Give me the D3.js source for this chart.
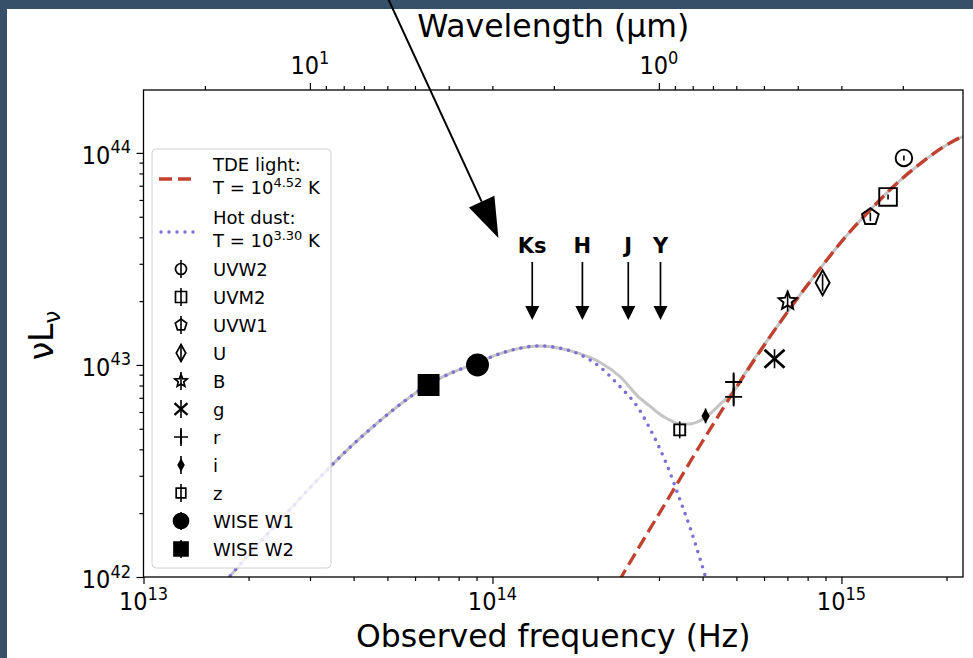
<!DOCTYPE html>
<html>
<head>
<meta charset="utf-8">
<title>SED</title>
<script src="https://cdn.jsdelivr.net/npm/d3@7/dist/d3.min.js"></script>
<style>
    body { margin: 0; background: #36506a; overflow: hidden; }
    svg { display: block; }
    text { font-family: "DejaVu Sans", sans-serif; fill: #000; }
</style>
</head>
<body>
<div id="sed-chart"></div>
<script>

var LIGHT_SPEED = 2.998e14; // micron per second

// photometric bands, in legend order
var bandNames = ["UVW2", "UVM2", "UVW1", "U", "B", "g", "r", "i", "z", "WISE W1", "WISE W2"];

// measured points: observed frequency (Hz), nu L_nu (erg/s), error (dex)
var pointBand = ["UVW2", "UVM2", "UVW1", "U", "B", "g", "r", "r", "i", "z", "WISE W1", "WISE W2"];
var pointFreq = [1.51e15, 1.36e15, 1.21e15, 8.83e14, 7.01e14, 6.43e14, 4.91e14, 4.91e14, 4.08e14, 3.44e14, 9.06e13, 6.56e13];
var pointLum = [9.47e43, 6.20e43, 4.99e43, 2.44e43, 2.00e43, 1.07e43, 8.31e42, 7.07e42, 5.75e42, 4.94e42, 1.00e43, 8.05e42];
var pointErrDex = [0.012, 0.012, 0.02, 0.04, 0.05, 0.045, 0.045, 0.045, 0.035, 0.04, 0.02, 0.02];

// blackbody fits
var tdeLogT = "4.52";
var dustLogT = "3.30";

var tdeFreq = [2.03e14, 2.34e14, 2.76e14, 3.26e14, 3.84e14, 4.53e14, 5.34e14, 6.30e14, 7.43e14, 8.76e14,
    1.03e15, 1.22e15, 1.44e15, 1.70e15, 2.00e15, 2.22e15, 2.30e15];
var tdeLum = [6.69e41, 1.00e42, 1.58e42, 2.49e42, 3.91e42, 6.07e42, 9.27e42, 1.39e43, 2.03e43, 2.90e43,
    4.04e43, 5.47e43, 7.18e43, 9.02e43, 1.09e44, 1.19e44, 1.21e44];

var dustFreq = [1.60e13, 1.76e13, 2.15e13, 2.62e13, 3.19e13, 3.89e13, 4.75e13, 5.60e13, 6.51e13, 7.63e13,
    9.00e13, 1.05e14, 1.20e14, 1.36e14, 1.56e14, 1.78e14, 2.03e14, 2.31e14, 2.64e14, 2.82e14,
    3.01e14, 3.22e14, 3.44e14, 3.67e14, 3.92e14, 4.08e14, 4.24e14];
var dustLum = [8.31e41, 1.00e42, 1.45e42, 2.07e42, 2.93e42, 4.06e42, 5.44e42, 6.76e42, 8.05e42, 9.17e42,
    1.02e43, 1.13e43, 1.20e43, 1.23e43, 1.20e43, 1.12e43, 9.79e42, 7.96e42, 6.13e42, 5.04e42,
    4.06e42, 3.13e42, 2.33e42, 1.74e42, 1.24e42, 1.00e42, 7.96e41];

// sum of both components
var totalFreq = [1.60e13, 1.76e13, 2.15e13, 2.62e13, 3.19e13, 3.89e13, 4.75e13, 5.60e13, 6.51e13, 7.63e13,
    9.00e13, 1.05e14, 1.20e14, 1.36e14, 1.56e14, 1.78e14, 2.03e14, 2.31e14, 2.64e14, 2.82e14,
    3.01e14, 3.22e14, 3.44e14, 3.67e14, 3.92e14, 4.19e14, 4.47e14, 4.94e14, 5.45e14, 6.30e14,
    7.43e14, 8.76e14, 1.03e15, 1.22e15, 1.44e15, 1.70e15, 2.00e15, 2.22e15, 2.30e15];
var totalLum = [8.31e41, 1.00e42, 1.45e42, 2.07e42, 2.93e42, 4.06e42, 5.44e42, 6.76e42, 8.05e42, 9.17e42,
    1.02e43, 1.13e43, 1.20e43, 1.23e43, 1.20e43, 1.13e43, 1.03e43, 8.87e42, 6.99e42, 6.41e42,
    5.87e42, 5.50e42, 5.27e42, 5.27e42, 5.44e42, 5.87e42, 6.48e42, 7.62e42, 9.89e42, 1.39e43,
    2.03e43, 2.90e43, 4.04e43, 5.47e43, 7.18e43, 9.02e43, 1.09e44, 1.19e44, 1.21e44];

// near-IR filters marked with arrows
var filterNames = ["Ks", "H", "J", "Y"];
var filterFreq = [1.30e14, 1.81e14, 2.45e14, 3.03e14];
var filterArrowLum = 1.63e43;

// pointer into the plot, from the top edge of the page
var pointerFrom = [5.04e13, 5.27e44];
var pointerTo = [1.04e14, 3.97e43];

// tick decades
var freqTickExp = [13, 14, 15];
var lumTickExp = [42, 43, 44];
var wlTickExp = [1, 0];


var markerStyle = {
    "UVW2":    { shape: "circle",   size: 8.3,  legendSize: 5.5, fill: false },
    "UVM2":    { shape: "square",   size: 8.8,  legendSize: 5.5, fill: false },
    "UVW1":    { shape: "pentagon", size: 8.8,  legendSize: 6,   fill: false },
    "U":       { shape: "diamond",  size: 12.5, legendSize: 8.5, fill: false },
    "B":       { shape: "star",     size: 9.5,  legendSize: 6.5, fill: false },
    "g":       { shape: "x",        size: 10,   legendSize: 6.5, fill: false },
    "r":       { shape: "plus",     size: 8.5,  legendSize: 7,   fill: false },
    "i":       { shape: "diamond",  size: 5.5,  legendSize: 5,   fill: true },
    "z":       { shape: "square",   size: 5.5,  legendSize: 4.8, fill: false },
    "WISE W1": { shape: "circle",   size: 10.5, legendSize: 7.5, fill: true },
    "WISE W2": { shape: "square",   size: 10,   legendSize: 7,   fill: true }
};

function markerPath(shape, s) {
    var p = d3.path(), k, a, r;
    if (shape === "circle") {
        p.moveTo(s, 0);
        p.arc(0, 0, s, 0, 2 * Math.PI);
    } else if (shape === "square") {
        p.rect(-s, -s, 2 * s, 2 * s);
    } else if (shape === "pentagon" || shape === "star") {
        var n = shape === "star" ? 10 : 5;
        for (k = 0; k < n; k++) {
            r = (shape === "star" && k % 2) ? s * 0.45 : s;
            a = -Math.PI / 2 + k * 2 * Math.PI / n;
            if (k === 0) p.moveTo(r * Math.cos(a), r * Math.sin(a));
            else p.lineTo(r * Math.cos(a), r * Math.sin(a));
        }
        p.closePath();
    } else if (shape === "diamond") {
        p.moveTo(0, -s);
        p.lineTo(0.56 * s, 0);
        p.lineTo(0, s);
        p.lineTo(-0.56 * s, 0);
        p.closePath();
    } else if (shape === "x") {
        p.moveTo(-s, -0.9 * s); p.lineTo(s, 0.9 * s);
        p.moveTo(-s, 0.9 * s); p.lineTo(s, -0.9 * s);
    } else if (shape === "plus") {
        p.moveTo(-s, 0); p.lineTo(s, 0);
        p.moveTo(0, -s); p.lineTo(0, s);
    }
    return p.toString();
}

// "10" with a raised exponent
function powerLabel(sel, exp, size) {
    sel.append("tspan").text("10");
    sel.append("tspan")
        .attr("dy", -0.42 * size)
        .attr("font-size", 0.72 * size)
        .text(exp);
}


sedChart = function(_parentElement) {
    this.parentElement = _parentElement;
    this.initVis();
};

sedChart.prototype.initVis = function() {
    var vis = this;

    vis.width = 973;
    vis.height = 658;
    vis.plot = { left: 143.5, right: 963, top: 90, bottom: 577 };

    vis.svg = d3.select("#" + vis.parentElement).append("svg")
        .attr("width", vis.width)
        .attr("height", vis.height);

    // page on the dark backdrop
    vis.svg.append("rect")
        .attr("width", vis.width)
        .attr("height", vis.height)
        .attr("fill", "#36506a");
    vis.svg.append("rect")
        .attr("x", 7)
        .attr("y", 9)
        .attr("width", vis.width - 7)
        .attr("height", vis.height - 9)
        .attr("fill", "#ffffff");

    vis.x = d3.scaleLog()
        .domain([1e13, 2.23e15])
        .range([vis.plot.left, vis.plot.right]);
    vis.y = d3.scaleLog()
        .domain([1e42, 1.98e44])
        .range([vis.plot.bottom, vis.plot.top]);
    // wavelength in micron for the top axis
    vis.wl = d3.scaleLog()
        .domain([LIGHT_SPEED / vis.x.domain()[0], LIGHT_SPEED / vis.x.domain()[1]])
        .range([vis.plot.left, vis.plot.right]);

    vis.svg.append("clipPath")
        .attr("id", "plot-clip")
        .append("rect")
        .attr("x", vis.plot.left)
        .attr("y", vis.plot.top)
        .attr("width", vis.plot.right - vis.plot.left)
        .attr("height", vis.plot.bottom - vis.plot.top);

    vis.drawCurves();
    vis.drawLegend();
    vis.drawPoints();
    vis.drawFilters();
    vis.drawAxes();
    vis.drawPointer();
};

sedChart.prototype.drawCurves = function() {
    var vis = this;

    var line = d3.line()
        .x(function(d) { return vis.x(d[0]); })
        .y(function(d) { return vis.y(d[1]); })
        .curve(d3.curveMonotoneX);

    var curves = vis.svg.append("g")
        .attr("clip-path", "url(#plot-clip)")
        .attr("fill", "none");

    curves.append("path")
        .attr("d", line(d3.zip(totalFreq, totalLum)))
        .attr("stroke", "#c4c4c4")
        .attr("stroke-width", 3);

    curves.append("path")
        .attr("d", line(d3.zip(dustFreq, dustLum)))
        .attr("stroke", "#7a6fd4")
        .attr("stroke-width", 3.6)
        .attr("stroke-linecap", "round")
        .attr("stroke-dasharray", "0,8");

    curves.append("path")
        .attr("d", line(d3.zip(tdeFreq, tdeLum)))
        .attr("stroke", "#c2402e")
        .attr("stroke-width", 3.3)
        .attr("stroke-dasharray", "13,6");
};

sedChart.prototype.drawLegend = function() {
    var vis = this;

    var lg = vis.svg.append("g").attr("class", "legend");
    lg.append("rect")
        .attr("x", 152)
        .attr("y", 149)
        .attr("width", 179)
        .attr("height", 419)
        .attr("rx", 4)
        .attr("fill", "#ffffff")
        .attr("fill-opacity", 0.8)
        .attr("stroke", "#d0d0d0");

    var fs = 18;
    var textX = 213;
    var markX = 181;

    // model lines
    var models = [
        { name: "TDE light:", logT: tdeLogT, y: 179, color: "#c2402e", dash: "13,6", cap: "butt" },
        { name: "Hot dust:", logT: dustLogT, y: 232, color: "#7a6fd4", dash: "0,8", cap: "round" }
    ];
    models.forEach(function(m) {
        lg.append("line")
            .attr("x1", m.cap === "round" ? 161 : 159)
            .attr("x2", 194)
            .attr("y1", m.y)
            .attr("y2", m.y)
            .attr("stroke", m.color)
            .attr("stroke-width", 3.4)
            .attr("stroke-linecap", m.cap)
            .attr("stroke-dasharray", m.dash);
        lg.append("text")
            .attr("x", textX)
            .attr("y", m.y - 8)
            .attr("font-size", fs)
            .text(m.name);
        var t = lg.append("text")
            .attr("x", textX)
            .attr("y", m.y + 15)
            .attr("font-size", fs);
        t.append("tspan").text("T = 10");
        t.append("tspan").attr("dy", -7).attr("font-size", 13).text(m.logT);
        t.append("tspan").attr("dy", 7).text(" K");
    });

    bandNames.forEach(function(b, i) {
        var yy = 269 + 28 * i;
        var st = markerStyle[b];
        lg.append("line")
            .attr("x1", markX).attr("x2", markX)
            .attr("y1", yy - 9).attr("y2", yy + 9)
            .attr("stroke", "#000")
            .attr("stroke-width", 1.6);
        lg.append("path")
            .attr("transform", "translate(" + markX + "," + yy + ")")
            .attr("d", markerPath(st.shape, st.legendSize))
            .attr("fill", st.fill ? "#000" : "none")
            .attr("stroke", "#000")
            .attr("stroke-width", st.shape === "x" ? 2.3 : 1.7);
        lg.append("text")
            .attr("x", textX)
            .attr("y", yy + 6.5)
            .attr("font-size", fs)
            .text(b);
    });
};

sedChart.prototype.drawPoints = function() {
    var vis = this;

    var pts = pointBand.map(function(b, i) {
        return { band: b, freq: pointFreq[i], lum: pointLum[i], err: pointErrDex[i] };
    });

    var g = vis.svg.append("g").attr("class", "points");

    g.selectAll("line.err")
        .data(pts)
        .enter()
        .append("line")
        .attr("class", "err")
        .attr("x1", function(d) { return vis.x(d.freq); })
        .attr("x2", function(d) { return vis.x(d.freq); })
        .attr("y1", function(d) { return vis.y(d.lum * Math.pow(10, d.err)); })
        .attr("y2", function(d) { return vis.y(d.lum / Math.pow(10, d.err)); })
        .attr("stroke", "#000")
        .attr("stroke-width", 1.6);

    g.selectAll("path.marker")
        .data(pts)
        .enter()
        .append("path")
        .attr("class", "marker")
        .attr("transform", function(d) {
            return "translate(" + vis.x(d.freq) + "," + vis.y(d.lum) + ")";
        })
        .attr("d", function(d) {
            var st = markerStyle[d.band];
            return markerPath(st.shape, st.size);
        })
        .attr("fill", function(d) { return markerStyle[d.band].fill ? "#000" : "none"; })
        .attr("stroke", "#000")
        .attr("stroke-width", function(d) { return markerStyle[d.band].shape === "x" ? 2.8 : 1.9; });
};

sedChart.prototype.drawFilters = function() {
    var vis = this;

    var g = vis.svg.append("g").attr("class", "filters");
    var tipY = vis.y(filterArrowLum);

    filterNames.forEach(function(f, i) {
        var fx = vis.x(filterFreq[i]);
        g.append("text")
            .attr("x", fx)
            .attr("y", tipY - 67)
            .attr("text-anchor", "middle")
            .attr("font-size", 21)
            .attr("font-weight", "bold")
            .text(f);
        g.append("line")
            .attr("x1", fx).attr("x2", fx)
            .attr("y1", tipY - 58).attr("y2", tipY - 12)
            .attr("stroke", "#000")
            .attr("stroke-width", 1.7);
        g.append("path")
            .attr("d", "M" + (fx - 7) + "," + (tipY - 14) + "L" + (fx + 7) + "," + (tipY - 14) +
                "L" + fx + "," + tipY + "Z")
            .attr("fill", "#000");
    });
};

sedChart.prototype.drawAxes = function() {
    var vis = this;
    var p = vis.plot;

    var minors = function(exps, scale) {
        var lo = Math.min.apply(null, scale.domain()), hi = Math.max.apply(null, scale.domain());
        var out = [];
        d3.range(d3.min(exps) - 1, d3.max(exps) + 1).forEach(function(e) {
            for (var k = 2; k <= 9; k++) {
                var v = k * Math.pow(10, e);
                if (v > lo && v < hi) out.push(v);
            }
        });
        return out;
    };
    var majors = function(exps) {
        return exps.map(function(e) { return Math.pow(10, e); });
    };

    var axes = [
        { g: "x-axis", axis: d3.axisBottom(vis.x), scale: vis.x, exps: freqTickExp, at: "translate(0," + p.bottom + ")" },
        { g: "y-axis", axis: d3.axisLeft(vis.y), scale: vis.y, exps: lumTickExp, at: "translate(" + p.left + ",0)" },
        { g: "wl-axis", axis: d3.axisTop(vis.wl), scale: vis.wl, exps: wlTickExp, at: "translate(0," + p.top + ")" }
    ];

    axes.forEach(function(a) {
        var ag = vis.svg.append("g")
            .attr("class", a.g + " axis")
            .attr("transform", a.at);
        ag.append("g").call(a.axis.tickValues(minors(a.exps, a.scale)).tickSize(4).tickSizeOuter(0).tickFormat(""));
        ag.append("g").call(a.axis.tickValues(majors(a.exps)).tickSize(7).tickSizeOuter(0).tickFormat(""));
        ag.selectAll(".domain").remove();
        ag.selectAll(".tick line").attr("stroke", "#000").attr("stroke-width", 1.2);
    });

    // frame
    vis.svg.append("rect")
        .attr("x", p.left)
        .attr("y", p.top)
        .attr("width", p.right - p.left)
        .attr("height", p.bottom - p.top)
        .attr("fill", "none")
        .attr("stroke", "#000")
        .attr("stroke-width", 1.3);

    // tick labels, slightly condensed
    var tfs = 25;
    var tickLabel = function(tx, ty, anchor, e) {
        var t = vis.svg.append("g")
            .attr("transform", "translate(" + tx + "," + ty + ") scale(0.9,1)")
            .append("text")
            .attr("text-anchor", anchor)
            .attr("font-size", tfs);
        powerLabel(t, e, tfs);
    };
    freqTickExp.forEach(function(e) {
        tickLabel(vis.x(Math.pow(10, e)), 610, "middle", e);
    });
    lumTickExp.forEach(function(e) {
        tickLabel(131, vis.y(Math.pow(10, e)) + 11, "end", e);
    });
    wlTickExp.forEach(function(e) {
        tickLabel(vis.wl(Math.pow(10, e)), 74, "middle", e);
    });

    // axis titles
    var cx = (p.left + p.right) / 2;
    vis.svg.append("text")
        .attr("x", cx)
        .attr("y", 647)
        .attr("text-anchor", "middle")
        .attr("font-size", 31.5)
        .text("Observed frequency (Hz)");
    vis.svg.append("text")
        .attr("x", cx)
        .attr("y", 37)
        .attr("text-anchor", "middle")
        .attr("font-size", 31.5)
        .text("Wavelength (\u00b5m)");

    var yl = vis.svg.append("text")
        .attr("transform", "translate(53," + ((p.top + p.bottom) / 2 + 2) + ") rotate(-90)")
        .attr("text-anchor", "middle")
        .attr("font-size", 33);
    yl.append("tspan").text("\u03bdL");
    yl.append("tspan").attr("dy", 7).attr("font-size", 23).text("\u03bd");
};

sedChart.prototype.drawPointer = function() {
    var vis = this;

    var x0 = vis.x(pointerFrom[0]), y0 = vis.y(pointerFrom[1]);
    var x1 = vis.x(pointerTo[0]), y1 = vis.y(pointerTo[1]);
    var len = Math.sqrt((x1 - x0) * (x1 - x0) + (y1 - y0) * (y1 - y0));
    var ux = (x1 - x0) / len, uy = (y1 - y0) / len;
    var headLen = 40, headHalf = 14;
    var bx = x1 - headLen * ux, by = y1 - headLen * uy;

    vis.svg.append("line")
        .attr("x1", x0).attr("y1", y0)
        .attr("x2", bx).attr("y2", by)
        .attr("stroke", "#000")
        .attr("stroke-width", 2);
    vis.svg.append("path")
        .attr("d", "M" + x1 + "," + y1 +
            "L" + (bx - headHalf * uy) + "," + (by + headHalf * ux) +
            "L" + (bx + headHalf * uy) + "," + (by - headHalf * ux) + "Z")
        .attr("fill", "#000");
};

new sedChart("sed-chart");

</script>
</body>
</html>
